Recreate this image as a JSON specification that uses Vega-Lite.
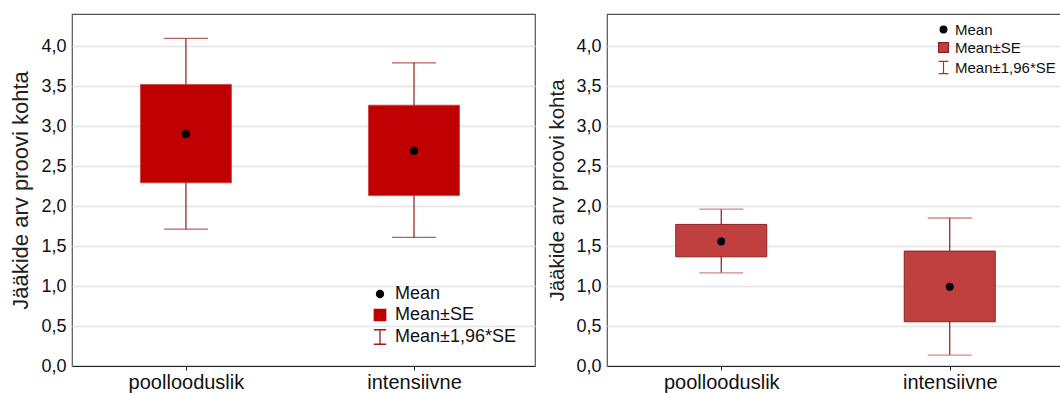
{
  "$schema": "https://vega.github.io/schema/vega-lite/v6.json",
  "background": "white",
  "padding": {"left": 9, "top": 13, "right": 0, "bottom": 0},
  "spacing": 11,
  "config": {
    "font": "Liberation Sans",
    "view": {"stroke": "#555555", "strokeWidth": 1.2},
    "axis": {"labelFont": "Liberation Sans", "titleFont": "Liberation Sans", "labelColor": "#111111", "titleColor": "#222222", "titleFontWeight": "normal"},
    "axisY": {"grid": true, "gridColor": "#e4e4e4", "gridWidth": 1.5, "ticks": false, "domain": false, "labelPadding": 6, "labelFontSize": 18, "titlePadding": 8},
    "axisX": {"grid": false, "domainColor": "#222222", "domainWidth": 1.2, "tickColor": "#222222", "tickSize": 4, "labelPadding": 2, "labelFontSize": 20, "labelAngle": 0}
  },
  "datasets": {
    "left": [
      {"group": "poollooduslik", "mean": 2.9, "se_lo": 2.29, "se_hi": 3.52, "ci_lo": 1.71, "ci_hi": 4.095},
      {"group": "intensiivne", "mean": 2.69, "se_lo": 2.13, "se_hi": 3.26, "ci_lo": 1.607, "ci_hi": 3.79}
    ],
    "right": [
      {"group": "poollooduslik", "mean": 1.557, "se_lo": 1.365, "se_hi": 1.77, "ci_lo": 1.165, "ci_hi": 1.96},
      {"group": "intensiivne", "mean": 0.99, "se_lo": 0.553, "se_hi": 1.436, "ci_lo": 0.137, "ci_hi": 1.85}
    ]
  },
  "resolve": {
    "scale": {"fill": "independent", "stroke": "independent", "shape": "independent", "size": "independent", "y": "independent", "x": "independent"},
    "legend": {"fill": "independent", "stroke": "independent", "shape": "independent", "size": "independent"}
  },
  "hconcat": [
    {
      "width": 463,
      "height": 352,
      "data": {"name": "left"},
      "encoding": {
        "x": {"field": "group", "type": "nominal", "sort": ["poollooduslik", "intensiivne"], "scale": {"type": "point", "padding": 0.515, "align": 0.485}, "axis": {"title": null}}
      },
      "layer": [
        {
          "mark": {"type": "rule", "color": "#8b1a1a", "strokeWidth": 1.2},
          "encoding": {
            "y": {"field": "ci_lo", "type": "quantitative", "title": "Jääkide arv proovi kohta", "scale": {"domain": [0, 4.4], "nice": false, "zero": true}, "axis": {"values": [0, 0.5, 1, 1.5, 2, 2.5, 3, 3.5, 4], "labelExpr": "replace(format(datum.value, '.1f'), '.', ',')", "titleFontSize": 22}},
            "y2": {"field": "ci_hi"}
          }
        },
        {
          "mark": {"type": "tick", "color": "#9a1c1c", "size": 44, "thickness": 1.3},
          "encoding": {"y": {"field": "ci_lo", "type": "quantitative", "title": "Jääkide arv proovi kohta"}}
        },
        {
          "mark": {"type": "tick", "color": "#9a1c1c", "size": 44, "thickness": 1.3},
          "encoding": {"y": {"field": "ci_hi", "type": "quantitative", "title": "Jääkide arv proovi kohta"}}
        },
        {
          "mark": {"type": "bar", "color": "#c00000", "size": 91, "stroke": "#c84040", "strokeWidth": 0.8},
          "encoding": {
            "y": {"field": "se_lo", "type": "quantitative", "title": "Jääkide arv proovi kohta"},
            "y2": {"field": "se_hi"}
          }
        },
        {
          "mark": {"type": "point", "filled": true, "opacity": 1, "strokeWidth": 1.3},
          "encoding": {
            "y": {"field": "mean", "type": "quantitative", "title": "Jääkide arv proovi kohta"},
            "fill": {
              "datum": "Mean", "type": "nominal",
              "scale": {"domain": ["Mean", "Mean±SE", "Mean±1,96*SE"], "range": ["#000000", "#c00000", "transparent"]},
              "legend": {"title": null, "orient": "bottom-right", "offset": 19, "labelFontSize": 18, "labelFont": "Liberation Sans", "labelColor": "#111111", "labelOffset": 6, "rowPadding": 3, "symbolStrokeWidth": 1.3}
            },
            "stroke": {
              "datum": "Mean", "type": "nominal",
              "scale": {"domain": ["Mean", "Mean±SE", "Mean±1,96*SE"], "range": ["#000000", "#c00000", "#9a1c1c"]},
              "legend": {"title": null, "orient": "bottom-right", "offset": 19, "labelFontSize": 18, "labelFont": "Liberation Sans", "labelColor": "#111111", "labelOffset": 6, "rowPadding": 3, "symbolStrokeWidth": 1.3}
            },
            "shape": {
              "datum": "Mean", "type": "nominal",
              "scale": {"domain": ["Mean", "Mean±SE", "Mean±1,96*SE"], "range": ["circle", "square", "M-0.85,-1L0.85,-1M0,-1L0,1M-0.85,1L0.85,1"]},
              "legend": {"title": null, "orient": "bottom-right", "offset": 19, "labelFontSize": 18, "labelFont": "Liberation Sans", "labelColor": "#111111", "labelOffset": 6, "rowPadding": 3, "symbolStrokeWidth": 1.3}
            },
            "size": {
              "datum": "Mean", "type": "ordinal",
              "scale": {"domain": ["Mean", "Mean±SE", "Mean±1,96*SE"], "range": [50, 210, 280]},
              "legend": {"title": null, "orient": "bottom-right", "offset": 19, "labelFontSize": 18, "labelFont": "Liberation Sans", "labelColor": "#111111", "labelOffset": 6, "rowPadding": 3, "symbolStrokeWidth": 1.3}
            }
          }
        }
      ]
    },
    {
      "width": 457,
      "height": 352,
      "data": {"name": "right"},
      "encoding": {
        "x": {"field": "group", "type": "nominal", "sort": ["poollooduslik", "intensiivne"], "scale": {"type": "point", "padding": 0.5}, "axis": {"title": null}}
      },
      "layer": [
        {
          "mark": {"type": "rule", "color": "#8b1a1a", "strokeWidth": 1.2},
          "encoding": {
            "y": {"field": "ci_lo", "type": "quantitative", "title": "Jääkide arv proovi kohta", "scale": {"domain": [0, 4.4], "nice": false, "zero": true}, "axis": {"values": [0, 0.5, 1, 1.5, 2, 2.5, 3, 3.5, 4], "labelExpr": "replace(format(datum.value, '.1f'), '.', ',')", "titleFontSize": 20.5}},
            "y2": {"field": "ci_hi"}
          }
        },
        {
          "mark": {"type": "tick", "color": "#c05050", "size": 44, "thickness": 1.3},
          "encoding": {"y": {"field": "ci_lo", "type": "quantitative", "title": "Jääkide arv proovi kohta"}}
        },
        {
          "mark": {"type": "tick", "color": "#c05050", "size": 44, "thickness": 1.3},
          "encoding": {"y": {"field": "ci_hi", "type": "quantitative", "title": "Jääkide arv proovi kohta"}}
        },
        {
          "mark": {"type": "bar", "color": "#c04040", "size": 91, "stroke": "#8b2020", "strokeWidth": 1},
          "encoding": {
            "y": {"field": "se_lo", "type": "quantitative", "title": "Jääkide arv proovi kohta"},
            "y2": {"field": "se_hi"}
          }
        },
        {
          "mark": {"type": "point", "filled": true, "opacity": 1, "strokeWidth": 1.2},
          "encoding": {
            "y": {"field": "mean", "type": "quantitative", "title": "Jääkide arv proovi kohta"},
            "fill": {
              "datum": "Mean", "type": "nominal",
              "scale": {"domain": ["Mean", "Mean±SE", "Mean±1,96*SE"], "range": ["#000000", "#c04040", "transparent"]},
              "legend": {"title": null, "orient": "top-right", "offset": 8, "labelFontSize": 15, "labelFont": "Liberation Sans", "labelColor": "#111111", "labelOffset": 4, "rowPadding": 2, "symbolStrokeWidth": 1.2}
            },
            "stroke": {
              "datum": "Mean", "type": "nominal",
              "scale": {"domain": ["Mean", "Mean±SE", "Mean±1,96*SE"], "range": ["#000000", "#8b2020", "#b03030"]},
              "legend": {"title": null, "orient": "top-right", "offset": 8, "labelFontSize": 15, "labelFont": "Liberation Sans", "labelColor": "#111111", "labelOffset": 4, "rowPadding": 2, "symbolStrokeWidth": 1.2}
            },
            "shape": {
              "datum": "Mean", "type": "nominal",
              "scale": {"domain": ["Mean", "Mean±SE", "Mean±1,96*SE"], "range": ["circle", "square", "M-0.8,-1L0.8,-1M0,-1L0,1M-0.8,1L0.8,1"]},
              "legend": {"title": null, "orient": "top-right", "offset": 8, "labelFontSize": 15, "labelFont": "Liberation Sans", "labelColor": "#111111", "labelOffset": 4, "rowPadding": 2, "symbolStrokeWidth": 1.2}
            },
            "size": {
              "datum": "Mean", "type": "ordinal",
              "scale": {"domain": ["Mean", "Mean±SE", "Mean±1,96*SE"], "range": [45, 150, 200]},
              "legend": {"title": null, "orient": "top-right", "offset": 8, "labelFontSize": 15, "labelFont": "Liberation Sans", "labelColor": "#111111", "labelOffset": 4, "rowPadding": 2, "symbolStrokeWidth": 1.2}
            }
          }
        }
      ]
    }
  ]
}
